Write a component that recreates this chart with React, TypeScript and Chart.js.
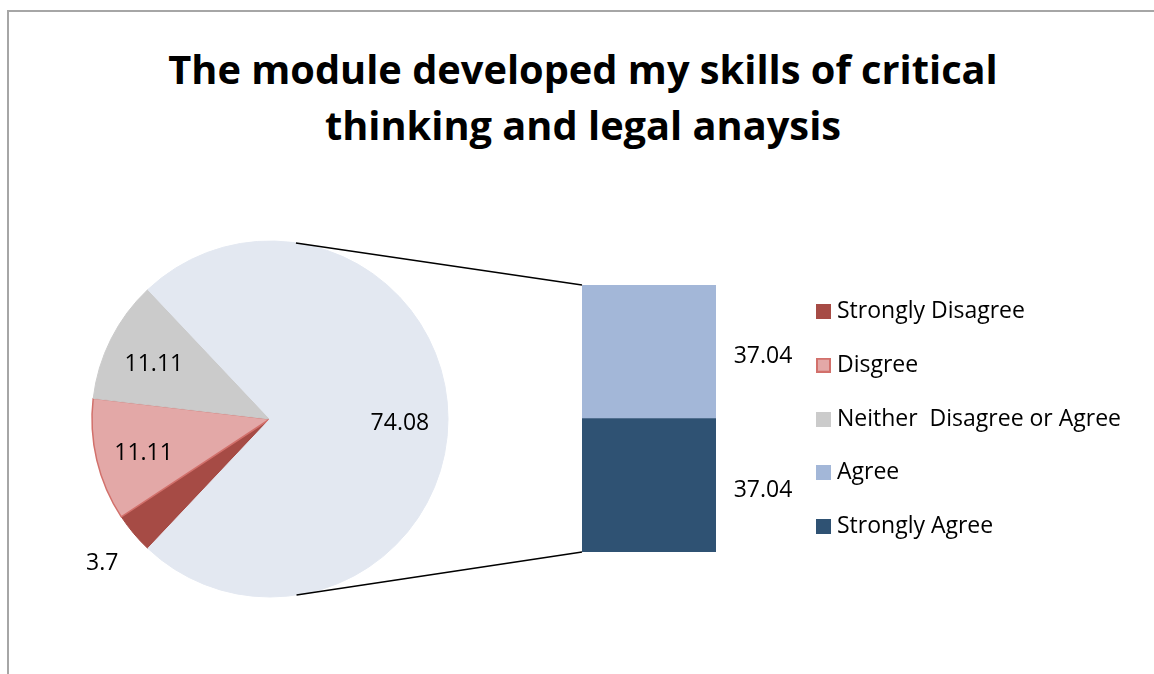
import React, { useEffect, useRef } from "react";
import { Chart, registerables } from "chart.js";

Chart.register(...registerables);

// ---------- data ----------
const titleLines = ["The module developed my skills of critical", "thinking and legal anaysis"];
const pieLabels = ["Strongly Disagree", "Disgree", "Neither  Disagree or Agree"];
const pieValues = [3.7, 11.11, 11.11];
const otherLabel = "Other";
const otherValue = 74.08;
const barLabels = ["Agree", "Strongly Agree"];
const barValues = [37.04, 37.04];

// ---------- styles ----------
const pieColors = ["#A64B45", "#E3A8A7", "#CBCBCB"];
const pieBorderColors = ["#A64B45", "#D2706B", "#CBCBCB"];
const pieBorderWidths = [1, 1.5, 1];
const otherColor = "#E3E8F1";
const barColors = ["#A3B7D8", "#2F5273"];
const FONT = '"Open Sans"';

const W = 1154;
const H = 674;
const PIE_OX = -260;
const PIE_W = W - PIE_OX;
const PIE_CX = 270;
const MARKER_LEFT = 816;
const MARKER_SIZE = 15;
const LEGEND_TEXT_X = 837;
const LEGEND_STEP = 53.75;
const TITLE_LINE1_WIDTH = 830;
const LEGEND_REF_WIDTH = 188;
const TITLE_BASE1 = 84;
const TITLE_LINE_H = 56;

const fmt = (v: number) => String(v);

function measureCtx(font: string) {
  const c = document.createElement("canvas").getContext("2d")!;
  c.font = font;
  return c;
}

const labelSize = (() => {
  const c = measureCtx(`20px ${FONT}`);
  return Math.round(((20 * LEGEND_REF_WIDTH) / c.measureText(pieLabels[0]).width) * 2) / 2;
})();

const titleMetrics = (() => {
  const c = measureCtx(`bold 40px ${FONT}`);
  const size = (40 * TITLE_LINE1_WIDTH) / c.measureText(titleLines[0]).width;
  const c2 = measureCtx(`bold ${size}px ${FONT}`);
  const m: any = c2.measureText(titleLines[0]);
  const fa = m.fontBoundingBoxAscent ?? size * 1.069;
  const fd = m.fontBoundingBoxDescent ?? size * 0.293;
  const top = TITLE_BASE1 - ((TITLE_LINE_H - (fa + fd)) / 2 + fa);
  return { size, top };
})();

function makeMarker(fill: string, stroke: string | null) {
  const c = document.createElement("canvas");
  c.width = MARKER_SIZE;
  c.height = MARKER_SIZE;
  const g = c.getContext("2d")!;
  g.fillStyle = fill;
  g.fillRect(0, 0, MARKER_SIZE, MARKER_SIZE);
  if (stroke) {
    g.strokeStyle = stroke;
    g.lineWidth = 2;
    g.strokeRect(1, 1, MARKER_SIZE - 2, MARKER_SIZE - 2);
  }
  return c;
}

export default function App() {
  const barRef = useRef<HTMLCanvasElement>(null);
  const pieRef = useRef<HTMLCanvasElement>(null);

  useEffect(() => {
    const barTotal = barValues.reduce((a, b) => a + b, 0);
    const barOrder = barLabels.map((_, i) => i).reverse();

    const barLabelPlugin = {
      id: "barValueLabels",
      afterDatasetsDraw(chart: any) {
        const ctx = chart.ctx;
        ctx.save();
        ctx.font = `${labelSize}px ${FONT}`;
        ctx.fillStyle = "#000";
        ctx.textAlign = "center";
        ctx.textBaseline = "middle";
        chart.data.datasets.forEach((ds: any, di: number) => {
          const el = chart.getDatasetMeta(di).data[0];
          const { x, y, base, width } = el.getProps(["x", "y", "base", "width"], true);
          ctx.fillText(fmt(ds.data[0]), x + width / 2 + 47, (y + base) / 2 + 5);
        });
        ctx.restore();
      },
    };

    const barChart = new Chart(barRef.current!, {
      type: "bar",
      data: {
        labels: [""],
        datasets: barOrder.map((i) => ({
          label: barLabels[i],
          data: [barValues[i]],
          backgroundColor: barColors[i],
          borderWidth: 0,
          barPercentage: 1,
          categoryPercentage: 1,
        })),
      },
      options: {
        responsive: false,
        animation: false,
        events: [],
        devicePixelRatio: 1,
        layout: { padding: { left: 582, right: W - 716, top: 285, bottom: H - 552 } },
        plugins: {
          legend: { display: false },
          tooltip: { enabled: false },
          title: { display: false },
        },
        scales: {
          x: { stacked: true, display: false },
          y: { stacked: true, display: false, min: 0, max: barTotal },
        },
      },
      plugins: [barLabelPlugin],
    } as any);

    const pieTotal = pieValues.reduce((a, b) => a + b, 0) + otherValue;
    const otherFrac = otherValue / pieTotal;

    const pieLabelPlugin = {
      id: "pieValueLabels",
      afterDatasetsDraw(chart: any) {
        const ctx = chart.ctx;
        const meta = chart.getDatasetMeta(0);
        const vals = chart.data.datasets[0].data;
        ctx.save();
        ctx.font = `${labelSize}px ${FONT}`;
        ctx.fillStyle = "#000";
        ctx.textAlign = "center";
        ctx.textBaseline = "middle";
        meta.data.forEach((el: any, i: number) => {
          const { x, y, startAngle, endAngle, outerRadius } = el.getProps(
            ["x", "y", "startAngle", "endAngle", "outerRadius"],
            true
          );
          const mid = (startAngle + endAngle) / 2;
          const frac = vals[i] / pieTotal;
          const r = frac < 0.05 ? outerRadius * 1.23 : outerRadius * 0.73;
          ctx.fillText(fmt(vals[i]), x + Math.cos(mid) * r, y + Math.sin(mid) * r + 4);
        });
        ctx.restore();
      },
    };

    const connectorPlugin = {
      id: "connectors",
      afterDatasetsDraw(chart: any) {
        const ctx = chart.ctx;
        const arc = chart.getDatasetMeta(0).data[pieValues.length];
        const { x: cx, y: cy, outerRadius: r } = arc.getProps(["x", "y", "outerRadius"], true);
        const n = barChart.data.datasets.length;
        const topEl = barChart.getDatasetMeta(n - 1).data[0] as any;
        const botEl = barChart.getDatasetMeta(0).data[0] as any;
        const t = topEl.getProps(["x", "y", "base", "width"], true);
        const b = botEl.getProps(["x", "y", "base", "width"], true);
        const corners = [
          { px: t.x - t.width / 2 - PIE_OX, py: t.y, sign: -1 },
          { px: b.x - b.width / 2 - PIE_OX, py: b.base, sign: 1 },
        ];
        ctx.save();
        ctx.strokeStyle = "#000";
        ctx.lineWidth = 1.5;
        corners.forEach(({ px, py, sign }) => {
          const dx = px - cx;
          const dy = py - cy;
          const d = Math.hypot(dx, dy);
          const th = Math.atan2(dy, dx);
          const a = Math.acos(Math.min(1, r / d));
          const ang = th + sign * a;
          ctx.beginPath();
          ctx.moveTo(cx + Math.cos(ang) * r, cy + Math.sin(ang) * r);
          ctx.lineTo(px, py);
          ctx.stroke();
        });
        ctx.restore();
      },
    };

    const legendColors = [...pieColors, ...barColors];
    const legendNames = [...pieLabels, ...barLabels];
    const markers = legendNames.map((_, i) =>
      makeMarker(legendColors[i], i === 1 ? pieBorderColors[1] : null)
    );
    const fs = labelSize;
    const pad = LEGEND_STEP - fs;
    // legend "box" slot width chosen so the marker image (centred in the slot) and the text land where they should
    const bw = Math.max(1, 2 * (LEGEND_TEXT_X - MARKER_LEFT - MARKER_SIZE / 2) - fs);
    const itemX = MARKER_LEFT + MARKER_SIZE / 2 - bw / 2; // page x where Chart.js starts each item
    const mc = measureCtx(`${fs}px ${FONT}`);
    const maxText = Math.max(...legendNames.map((t) => mc.measureText(t).width));
    const legendWidth = pad + bw + fs / 2 + maxText + 10;
    const legendLeftCanvas = itemX - pad - PIE_OX;
    const padRight = PIE_W - legendLeftCanvas - legendWidth;
    const padLeft = 2 * (PIE_CX - PIE_OX) - legendLeftCanvas;

    const pieChart = new Chart(pieRef.current!, {
      type: "pie",
      data: {
        labels: [...pieLabels, otherLabel],
        datasets: [
          {
            data: [...pieValues, otherValue],
            backgroundColor: [...pieColors, otherColor],
            borderColor: [...pieBorderColors, otherColor],
            borderWidth: [...pieBorderWidths, 1],
          },
        ],
      },
      options: {
        responsive: false,
        animation: false,
        events: [],
        devicePixelRatio: 1,
        rotation: otherFrac * 180 + 90,
        radius: 178,
        layout: { padding: { left: padLeft, top: 241, right: padRight, bottom: H - 597 } },
        plugins: {
          tooltip: { enabled: false },
          title: { display: false },
          legend: {
            display: true,
            position: "right",
            labels: {
              usePointStyle: true,
              boxWidth: bw,
              boxHeight: fs,
              padding: pad,
              color: "#000",
              font: { family: FONT, size: fs },
              generateLabels: () =>
                legendNames.map((name, i) => ({
                  text: name,
                  fillStyle: legendColors[i],
                  strokeStyle: legendColors[i],
                  lineWidth: 0,
                  pointStyle: markers[i],
                  hidden: false,
                  index: i,
                })),
            },
          },
        },
      },
      plugins: [pieLabelPlugin, connectorPlugin],
    } as any);

    return () => {
      pieChart.destroy();
      barChart.destroy();
    };
  }, []);

  return (
    <div
      style={{
        position: "fixed",
        left: 0,
        top: 0,
        width: W,
        height: H,
        overflow: "hidden",
        background: "#fff",
      }}
    >
      <div
        style={{
          position: "absolute",
          left: 7,
          top: 10,
          width: W + 40,
          height: H + 40,
          border: "2px solid #A6A6A6",
          boxSizing: "border-box",
        }}
      />
      <div
        style={{
          position: "absolute",
          left: 0,
          top: titleMetrics.top,
          width: 1166,
          textAlign: "center",
          fontFamily: FONT,
          fontWeight: 700,
          fontSize: titleMetrics.size,
          lineHeight: `${TITLE_LINE_H}px`,
          color: "#000",
          whiteSpace: "nowrap",
        }}
      >
        {titleLines.map((l, i) => (
          <div key={i}>{l}</div>
        ))}
      </div>
      <canvas
        ref={barRef}
        width={W}
        height={H}
        style={{ position: "absolute", left: 0, top: 0, width: W, height: H }}
      />
      <canvas
        ref={pieRef}
        width={PIE_W}
        height={H}
        style={{ position: "absolute", left: PIE_OX, top: 0, width: PIE_W, height: H }}
      />
    </div>
  );
}
